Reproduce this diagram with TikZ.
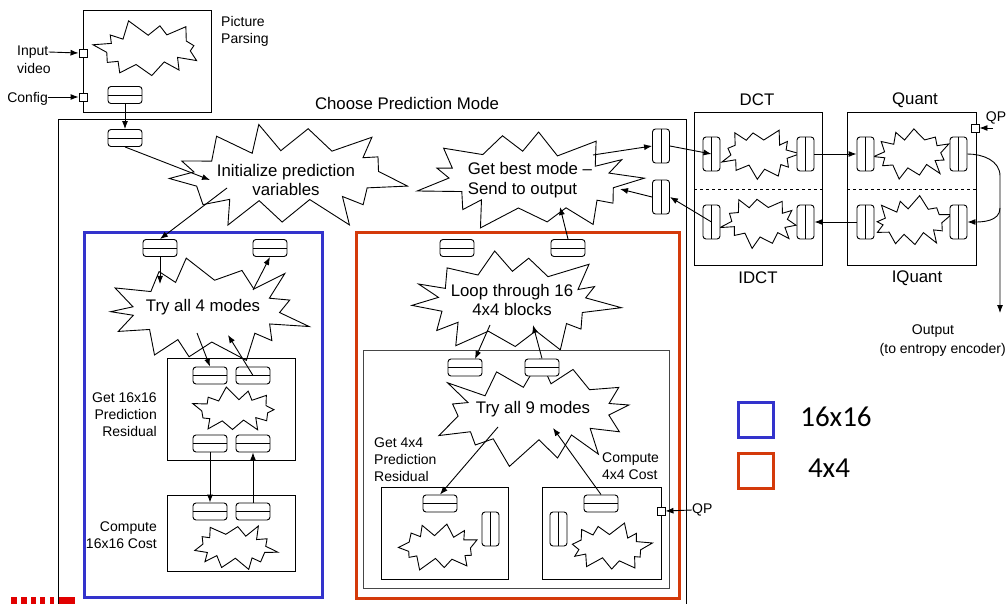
\documentclass[tikz,border=0pt]{standalone}
\usepackage{fontspec}
\setmainfont{Liberation Sans}
\newfontfamily\legendfont{Carlito}
\usetikzlibrary{arrows.meta}
\definecolor{boxblue}{RGB}{51,51,204}
\definecolor{boxred}{RGB}{212,58,10}
\definecolor{markred}{RGB}{225,0,0}
\definecolor{innergray}{RGB}{70,70,70}
\tikzset{
  x=1pt, y=-1pt,
  declare function={
    sang(\k,\n,\s) = \s*7 + \k*180/\n + 4*sin(\k*73+\s*19);
    sfx(\k,\s) = (mod(\k,2)==0) ? (0.9+0.1*sin(\k*97+\s*53)) : (0.72+0.04*sin(\k*151+\s*37));
    sfy(\k,\s) = (mod(\k,2)==0) ? (0.9+0.1*sin(\k*97+\s*53)) : (0.5+0.07*sin(\k*151+\s*37));
  },
  starline/.style={draw, line width=0.9pt, line join=miter, miter limit=20},
  store/.style={draw, line width=0.9pt, rounded corners=3pt, minimum width=34pt,
    minimum height=17pt, inner sep=0pt, fill=white,
    path picture={\draw[line width=0.9pt] (path picture bounding box.west) -- (path picture bounding box.east);}},
  vstore/.style={draw, line width=0.9pt, rounded corners=3pt, minimum width=17pt,
    minimum height=34pt, inner sep=0pt, fill=white,
    path picture={\draw[line width=0.9pt] (path picture bounding box.north) -- (path picture bounding box.south);}},
  port/.style={draw, line width=0.9pt, minimum size=8pt, inner sep=0pt, fill=white},
  panel/.style={draw, line width=1pt, inner sep=0pt, anchor=north west},
  flow/.style={-{Latex[length=8pt,width=6pt]}, line width=0.9pt},
  big/.style={font=\fontsize{16.8}{19.5}\selectfont, inner sep=0pt, align=center},
  small/.style={font=\fontsize{14}{17}\selectfont, inner sep=0pt},
}
% jagged star outline: centre x, centre y, x radius, y radius, points, seed
\newcommand{\jagstar}[6]{%
  \pgfmathtruncatemacro\jagtop{2*#5-1}%
  \draw[starline] plot[samples at={0,...,\jagtop}]
    ({#1+#3*sfx(\x,#6)*cos(sang(\x,#5,#6))},{#2+#4*sfy(\x,#6)*sin(sang(\x,#5,#6))}) -- cycle;%
}
\begin{document}
\begin{tikzpicture}
\useasboundingbox (0,0) rectangle (1007,604);
\clip (0,0) rectangle (1007,604);

% ---------------- Picture parsing ----------------
\node[panel, minimum width=128pt, minimum height=102pt] (ppBox) at (83,10) {};
\jagstar{148}{49}{57}{30}{11}{3}
\node[store] (ppStore) at (125,95) {};
\node[port] (inPort) at (83,53) {};
\node[port] (cfgPort) at (83,97) {};
\node[small, anchor=west] (inLbl) at (17,52) {Input};
\node[small, anchor=west] (vidLbl) at (17,68) {video};
\node[small, anchor=east] (cfgLbl) at (48,99) {Config};
\node[small, anchor=north west, align=left] (ppLbl) at (221,16) {Picture\\Parsing};
\draw[flow] (inLbl.east) -- (inPort.west);
\draw[flow] (cfgLbl.east |- cfgPort) -- (cfgPort.west);

% ---------------- Choose prediction mode ----------------
\draw[line width=1pt] (58,620) -- (58,120) -- (686,120) -- (686,620);
\node[big] (cpmLbl) at (407,103) {Choose Prediction Mode};
\node[store] (cpmStore) at (125,138) {};
\draw[flow] (ppStore.south) -- (cpmStore.north);

\jagstar{286}{176}{124}{57}{13}{5}
\node[big] (init) at (286,180) {Initialize prediction\\variables};
\coordinate (initIn) at (210,180);
\coordinate (initOut) at (227,188);
\draw[flow] (cpmStore.south) -- (initIn);

\jagstar{531}{180}{118}{53}{13}{8}
\node[big, align=left] (best) at (530,180) {Get best mode --\\Send to output};
\node[vstore] (gbA) at (661,146) {};
\node[vstore] (gbB) at (661,197) {};
\coordinate (bestOut) at (593,155);
\coordinate (bestIn) at (620,189);
\coordinate (bestUp) at (560,207);
\draw[flow] (bestOut) -- (gbA.west);
\draw[flow] (gbB.west) -- (bestIn);

% ---------------- 16x16 branch ----------------
\node[panel, draw=boxblue, line width=2.8pt, minimum width=238pt, minimum height=365pt] (blueBox) at (83,231) {};
\jagstar{206}{311}{108}{55}{13}{2}
\node[big] (try4) at (203,307) {Try all 4 modes};
\node[store] (b16in) at (160,248) {};
\node[store] (b16out) at (270,248) {};
\draw[flow] (initOut) -- (b16in.north);
\coordinate (t4In) at (160,284);
\coordinate (t4Out) at (253,290);
\draw[flow] (b16in.south) -- (t4In);
\draw[flow] (t4Out) -- (b16out.south);

\node[panel, minimum width=128pt, minimum height=102pt] (g16Box) at (167,358) {};
\jagstar{235}{410}{44}{24}{11}{4}
\node[store] (g16a) at (210,375.5) {};
\node[store] (g16b) at (253,375.5) {};
\node[store] (g16c) at (210,443.5) {};
\node[store] (g16d) at (253,443.5) {};
\node[small, anchor=east, align=right] (g16Lbl) at (157,415) {Get 16x16\\Prediction\\Residual};
\coordinate (t4a) at (197,333);
\coordinate (t4b) at (228,335);
\draw[flow] (t4a) -- (g16a.north);
\draw[flow] (g16b.center) -- (t4b);

\node[panel, minimum width=128pt, minimum height=76pt] (c16Box) at (167,495) {};
\jagstar{235}{547}{44}{25}{11}{6}
\node[store] (c16a) at (210,511.5) {};
\node[store] (c16b) at (253,511.5) {};
\node[small, anchor=east, align=right] (c16Lbl) at (157,535) {Compute\\16x16 Cost};
\draw[flow] (g16c.south) -- (c16a.north);
\draw[flow] (c16b.north) -- (g16d.south);

% ---------------- 4x4 branch ----------------
\node[panel, draw=boxred, line width=2.8pt, minimum width=323pt, minimum height=366pt] (redBox) at (355,231) {};
\jagstar{512}{302}{110}{54}{13}{9}
\node[big] (loop) at (512,300) {Loop through 16\\4x4 blocks};
\node[store] (r4L) at (457,248) {};
\node[store] (r4R) at (568,248) {};
\draw[flow] (r4R.north) -- (bestUp);

\node[panel, draw=innergray, minimum width=306pt, minimum height=238pt] (innerBox) at (363,350) {};
\jagstar{535}{413}{105}{56}{13}{11}
\node[big] (try9) at (533,409) {Try all 9 modes};
\node[store] (i4a) at (465,367.5) {};
\node[store] (i4b) at (542,367.5) {};
\coordinate (loopOut) at (490,325);
\coordinate (loopIn) at (533,325);
\coordinate (i4aTop) at (475,359);
\draw[flow] (loopOut) -- (i4aTop);
\draw[flow] (i4b.north) -- (loopIn);
\coordinate (t9Out) at (498,427);
\coordinate (t9In) at (553,428);

\node[small, anchor=north west, align=left] (p4Lbl) at (374,438) {Get 4x4\\Prediction\\Residual};
\node[small, anchor=west, align=left] (c4Lbl) at (602,466.5) {Compute\\4x4 Cost};

\node[panel, minimum width=127pt, minimum height=92pt] (p4Box) at (381,487) {};
\jagstar{439}{547}{42}{26}{11}{12}
\node[store] (p4s) at (440,503.5) {};
\node[vstore] (p4v) at (490.5,529) {};

\node[panel, minimum width=119pt, minimum height=92pt] (c4Box) at (542,487) {};
\jagstar{610}{547}{43}{26}{11}{13}
\node[store] (c4s) at (601,503.5) {};
\node[vstore] (c4v) at (558.5,529) {};
\node[port] (qp4) at (661,511) {};
\node[small, anchor=west] (qp4Lbl) at (692,510) {QP};

\draw[flow] (t9Out) -- (p4s.north);
\draw[flow] (c4s.north) -- (t9In);
\draw[flow] (qp4Lbl.west) -- (qp4.east);

% ---------------- DCT / Quant ----------------
\node[panel, minimum width=128pt, minimum height=153pt] (dctBox) at (694,112) {};
\draw[dashed, line width=0.9pt] (dctBox.west) -- (dctBox.east);
\node[big] (dctLbl) at (757,100) {DCT};
\node[big] (idctLbl) at (758,278) {IDCT};
\jagstar{760}{154}{41}{27}{11}{14}
\jagstar{760}{222}{41}{27}{11}{15}
\node[vstore] (dA) at (711.5,154) {};
\node[vstore] (dB) at (805.5,154) {};
\node[vstore] (dC) at (711.5,222) {};
\node[vstore] (dD) at (805.5,222) {};

\node[panel, minimum width=129pt, minimum height=153pt] (qBox) at (847,112) {};
\draw[dashed, line width=0.9pt] (qBox.west) -- (qBox.east);
\node[big] (qLbl) at (915,100) {Quant};
\node[big] (iqLbl) at (917,278) {IQuant};
\jagstar{912}{154}{41}{27}{11}{16}
\jagstar{912}{222}{41}{27}{11}{17}
\node[vstore] (qA) at (865.5,154) {};
\node[vstore] (qB) at (958.5,154) {};
\node[vstore] (qC) at (865.5,222) {};
\node[vstore] (qD) at (958.5,222) {};
\node[port] (qpQ) at (975,128) {};
\node[small] (qpQLbl) at (996,118) {QP};
\coordinate (qpIn) at (993,128);
\draw[flow] (qpIn) -- (qpQ.east);

\draw[flow] (gbA.east) -- (dA.center);
\draw[flow] (dC.center) -- (gbB.east);
\draw[flow] (dB.east) -- (qA.west);
\draw[flow] (qC.west) -- (dD.east);

\coordinate (bend) at (1000,176);
\coordinate (outEnd) at (1000,313);
\coordinate (branch) at (1000,208);
\draw[flow] (qB.east) to[out=0, in=90] (bend) -- (outEnd);
\draw[flow] (branch) to[out=-90, in=0] (qD.east);

\node[small] (outLbl) at (933,331) {Output};
\node[small, anchor=east] (outLbl2) at (1006,350) {(to entropy encoder)};

% ---------------- Legend ----------------
\node[panel, draw=boxblue, line width=2.8pt, minimum size=35pt] (legB) at (737,401) {};
\node[panel, draw=boxred, line width=2.8pt, minimum size=35pt] (legR) at (737,452) {};
\node[font=\legendfont\fontsize{29}{32}\selectfont, inner sep=0pt] (legBLbl) at (836,417) {16x16};
\node[font=\legendfont\fontsize{29}{32}\selectfont, inner sep=0pt] (legRLbl) at (829,468) {4x4};

% ---------------- Corner marks ----------------
\foreach \a/\b in {11/17, 21/27, 31/36, 40/45, 50/54, 59/75}
  \fill[markred] (\a,597) rectangle (\b,604);
\end{tikzpicture}
\end{document}
